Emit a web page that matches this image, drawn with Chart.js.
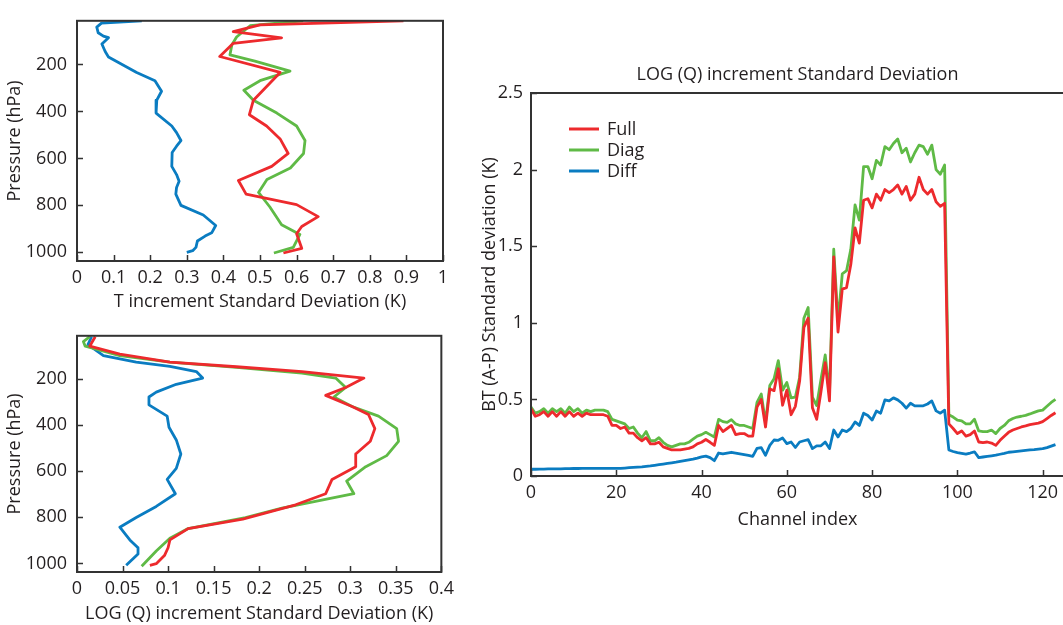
<!DOCTYPE html>
<html><head><meta charset="utf-8">
<script src="https://cdn.jsdelivr.net/npm/chart.js@4.4.1/dist/chart.umd.min.js"></script>
<style>
html,body{margin:0;padding:0;background:#fff;overflow:hidden;width:1063px;height:625px;position:relative;}
.box{position:absolute;}
canvas{display:block;}
</style></head><body>
<div class="box" style="left:0;top:0;"><canvas id="c1" width="460" height="315"></canvas></div>
<div class="box" style="left:0;top:315px;"><canvas id="c2" width="460" height="310"></canvas></div>
<div class="box" style="left:470px;top:50px;"><canvas id="c3" width="600" height="490"></canvas></div>
<script>
// ---------- Panel 1: T increment std dev vs pressure ----------
const tFullVal = [0.892,0.50,0.427,0.559,0.427,0.39,0.555,0.482,0.471,0.518,0.555,0.577,0.532,0.441,0.462,0.60,0.659,0.614,0.60,0.614,0.564];
const tFullP   = [14,31,60,87,110,166,234,352,414,462,517,579,634,694,752,797,848,890,921,983,1003];
const tDiagVal = [0.618,0.473,0.436,0.423,0.418,0.486,0.582,0.50,0.456,0.482,0.546,0.60,0.623,0.619,0.583,0.519,0.496,0.527,0.559,0.609,0.591,0.538];
const tDiagP   = [14,35,83,117,159,186,228,269,310,352,407,462,524,579,641,690,745,807,883,924,979,1003];
const tDiffVal = [0.177,0.067,0.054,0.058,0.072,0.086,0.068,0.077,0.086,0.163,0.213,0.231,0.218,0.216,0.259,0.272,0.284,0.272,0.26,0.259,0.272,0.279,0.272,0.27,0.284,0.345,0.379,0.368,0.35,0.329,0.325,0.316,0.30];
const tDiffP   = [14,24,41,65,79,86,113,145,168,234,269,314,352,407,462,490,524,548,575,634,669,697,724,752,800,841,886,917,931,952,979,993,1000];
const tTicks   = [0,0.1,0.2,0.3,0.4,0.5,0.6,0.7,0.8,0.9,1];

// ---------- Panel 2: LOG(Q) increment std dev vs pressure ----------
const qFullVal = [0.02,0.016,0.014,0.047,0.102,0.175,0.247,0.315,0.295,0.273,0.302,0.32,0.327,0.322,0.306,0.306,0.28,0.273,0.24,0.182,0.122,0.102,0.10,0.096,0.087,0.08];
const qFullP   = [18,45,59,93,128,148,169,197,238,272,320,355,416,471,526,581,636,698,746,808,849,898,932,966,1001,1008];
const qDiagVal = [0.014,0.007,0.009,0.047,0.102,0.175,0.247,0.284,0.295,0.282,0.302,0.331,0.351,0.353,0.34,0.317,0.296,0.304,0.225,0.185,0.122,0.102,0.087,0.071];
const qDiagP   = [18,39,59,100,128,151,176,197,238,279,320,362,416,471,533,581,643,698,760,801,849,891,946,1012];
const qDiffVal = [0.016,0.012,0.029,0.065,0.102,0.131,0.138,0.109,0.087,0.079,0.079,0.099,0.101,0.109,0.114,0.109,0.099,0.108,0.087,0.065,0.047,0.058,0.067,0.067,0.054];
const qDiffP   = [18,52,100,128,146,169,197,224,258,279,313,362,410,465,526,588,636,698,753,801,843,898,932,959,1008];
const qTicks   = [0,0.05,0.1,0.15,0.2,0.25,0.3,0.35,0.4];

const pressureTicks = [200,400,600,800,1000];

// ---------- Panel 3: BT (A-P) std dev vs channel ----------
const channels = Array.from({length:124}, (_, i) => i);
const btFull = [0.44,0.39,0.40,0.42,0.39,0.42,0.39,0.42,0.39,0.42,0.39,0.41,0.39,0.41,0.40,0.40,0.40,0.40,0.39,0.33,
  0.33,0.31,0.32,0.28,0.28,0.25,0.23,0.25,0.21,0.21,0.22,0.19,0.18,0.17,0.17,0.17,0.175,0.18,0.19,0.21,
  0.22,0.238,0.22,0.20,0.33,0.29,0.31,0.33,0.27,0.277,0.277,0.26,0.26,0.45,0.50,0.32,0.568,0.557,0.70,0.462,
  0.56,0.40,0.455,0.62,0.97,1.03,0.445,0.37,0.55,0.74,0.49,1.43,0.94,1.22,1.23,1.38,1.62,1.52,1.80,1.81,
  1.75,1.84,1.80,1.87,1.85,1.87,1.90,1.84,1.89,1.80,1.84,1.95,1.87,1.84,1.87,1.79,1.76,1.78,0.34,0.31,
  0.277,0.294,0.26,0.27,0.294,0.222,0.218,0.222,0.215,0.20,0.233,0.26,0.285,0.30,0.31,0.32,0.327,0.335,0.34,0.345,
  0.355,0.375,0.395,0.413];
const btDiag = [0.45,0.41,0.42,0.44,0.41,0.44,0.42,0.44,0.41,0.45,0.42,0.44,0.41,0.43,0.42,0.43,0.43,0.43,0.42,0.37,
  0.36,0.35,0.34,0.31,0.32,0.28,0.25,0.29,0.23,0.23,0.25,0.22,0.20,0.19,0.20,0.21,0.21,0.22,0.24,0.26,
  0.27,0.285,0.27,0.255,0.37,0.355,0.35,0.368,0.34,0.33,0.33,0.32,0.31,0.48,0.535,0.35,0.59,0.634,0.753,0.56,
  0.61,0.51,0.515,0.645,1.03,1.10,0.515,0.46,0.63,0.79,0.537,1.48,1.01,1.32,1.34,1.48,1.77,1.67,2.02,2.02,
  1.94,2.06,2.03,2.15,2.13,2.17,2.20,2.11,2.14,2.05,2.11,2.16,2.15,2.10,2.16,2.00,1.97,2.03,0.40,0.385,
  0.364,0.36,0.34,0.34,0.37,0.294,0.29,0.29,0.30,0.277,0.31,0.33,0.36,0.375,0.385,0.39,0.396,0.405,0.415,0.425,
  0.43,0.455,0.48,0.50];
const btDiff = [0.044,0.044,0.045,0.045,0.046,0.046,0.047,0.047,0.048,0.048,0.049,0.049,0.05,0.05,0.05,0.05,0.05,0.05,0.05,0.05,
  0.05,0.05,0.052,0.054,0.056,0.058,0.06,0.063,0.066,0.07,0.074,0.078,0.082,0.086,0.09,0.095,0.10,0.105,0.11,0.117,
  0.125,0.13,0.12,0.10,0.15,0.145,0.15,0.155,0.15,0.145,0.14,0.135,0.128,0.18,0.185,0.135,0.20,0.235,0.233,0.248,
  0.211,0.222,0.186,0.222,0.23,0.237,0.179,0.197,0.197,0.222,0.179,0.30,0.255,0.30,0.29,0.31,0.353,0.33,0.41,0.395,
  0.365,0.424,0.41,0.497,0.49,0.51,0.497,0.475,0.443,0.475,0.458,0.458,0.458,0.47,0.49,0.425,0.41,0.43,0.17,0.16,
  0.153,0.148,0.143,0.15,0.158,0.12,0.124,0.128,0.132,0.136,0.142,0.148,0.155,0.158,0.161,0.164,0.167,0.17,0.172,0.175,
  0.178,0.185,0.195,0.205];
const channelTicks = [0,20,40,60,80,100,120];
const btTicks = [0,0.5,1,1.5,2,2.5];

const seriesNames = ['Full','Diag','Diff'];
const colors = {Full:'#ed2a2d', Diag:'#5fba46', Diff:'#0a7cc1'};

// ---------- common ----------
const FONT = "'Open Sans', 'Noto Sans', sans-serif";
const FS = 18;
const TXT = '#231f20';
const AX = '#333333';
Chart.defaults.font.family = FONT;
Chart.defaults.font.size = FS;
Chart.defaults.color = TXT;
Chart.defaults.animation = false;

const framePlugin = {
  id: 'frame',
  afterDatasetsDraw(chart) {
    const {ctx, chartArea: a, scales} = chart;
    ctx.save();
    ctx.strokeStyle = AX;
    ctx.lineWidth = 2;
    ctx.strokeRect(a.left, a.top, a.right - a.left, a.bottom - a.top);
    ctx.lineWidth = 1.5;
    ctx.beginPath();
    scales.x.ticks.forEach(t => {
      const px = Math.round(scales.x.getPixelForValue(t.value)) + 0.5;
      ctx.moveTo(px, a.bottom); ctx.lineTo(px, a.bottom - 6);
    });
    scales.y.ticks.forEach(t => {
      const py = Math.round(scales.y.getPixelForValue(t.value)) + 0.5;
      ctx.moveTo(a.left, py); ctx.lineTo(a.left + 6, py);
    });
    ctx.stroke();
    ctx.restore();
  }
};

function fmt(v){ return String(Math.round(v*1000)/1000); }

function profileDataset(name, vals, ps){
  return {
    label: name,
    data: vals.map((v,i)=>({x:v, y:ps[i]})),
    showLine: true, borderColor: colors[name], backgroundColor: colors[name],
    borderWidth: 2.8, pointRadius: 0, tension: 0, borderJoinStyle: 'round'
  };
}

function profileChart(id, sets, xTicks, xMax, xTitle, padTop, xAxisH, titlePadB){
  return new Chart(document.getElementById(id), {
    type: 'scatter',
    data: { datasets: sets },
    options: {
      responsive: false,
      layout: { padding: { left: 0, right: 17, top: padTop, bottom: 0 } },
      plugins: { legend: { display: false }, tooltip: { enabled: false } },
      scales: {
        x: {
          type: 'linear', min: 0, max: xMax,
          afterBuildTicks: s => { s.ticks = xTicks.map(v => ({value: v})); },
          afterFit: s => { s.height = xAxisH; },
          grid: { display: false, drawTicks: false }, border: { display: false },
          ticks: { padding: 6, maxRotation: 0, autoSkip: false, callback: v => fmt(v), color: TXT },
          title: { display: true, text: xTitle, color: TXT, padding: { top: 0, bottom: titlePadB } }
        },
        y: {
          type: 'linear', reverse: true, min: 14, max: 1037,
          afterBuildTicks: s => { s.ticks = pressureTicks.map(v => ({value: v})); },
          afterFit: s => { s.width = 77; },
          grid: { display: false, drawTicks: false }, border: { display: false },
          ticks: { padding: 10, autoSkip: false, callback: v => fmt(v), color: TXT },
          title: { display: true, text: 'Pressure (hPa)', color: TXT, padding: { top: 4, bottom: 0 } }
        }
      }
    },
    plugins: [framePlugin]
  });
}

profileChart('c1', [
  profileDataset('Full', tFullVal, tFullP),
  profileDataset('Diag', tDiagVal, tDiagP),
  profileDataset('Diff', tDiffVal, tDiffP)
], tTicks, 1, 'T increment Standard Deviation (K)', 13, 54, 2);

profileChart('c2', [
  profileDataset('Full', qFullVal, qFullP),
  profileDataset('Diag', qDiagVal, qDiagP),
  profileDataset('Diff', qDiffVal, qDiffP)
], qTicks, 0.4, 'LOG (Q) increment Standard Deviation (K)', 9, 53, 0);

// ---------- right panel ----------
const chartTitleText = 'LOG (Q) increment Standard Deviation';
const legendPlugin = {
  id: 'insideLegend',
  afterDraw(chart) {
    const {ctx, chartArea: a} = chart;
    ctx.save();
    ctx.font = FS + 'px ' + FONT;
    ctx.textBaseline = 'middle';
    ctx.fillStyle = TXT;
    // title centred over the plot area
    ctx.textAlign = 'center';
    ctx.fillText(chartTitleText, (a.left + a.right) / 2, a.top - 18);
    ctx.textAlign = 'left';
    chart.data.datasets.forEach((ds, i) => {
      const y = a.top + 36 + i * 21;
      ctx.strokeStyle = ds.borderColor; ctx.lineWidth = 3;
      ctx.beginPath(); ctx.moveTo(a.left + 38, y); ctx.lineTo(a.left + 68, y); ctx.stroke();
      ctx.fillStyle = TXT;
      ctx.fillText(ds.label, a.left + 76, y + 1);
    });
    ctx.restore();
  }
};

const btSeries = {Full: btFull, Diag: btDiag, Diff: btDiff};
new Chart(document.getElementById('c3'), {
  type: 'scatter',
  data: {
    datasets: seriesNames.map(n => ({
      label: n,
      data: channels.map((c, i) => ({x: c, y: btSeries[n][i]})),
      showLine: true, borderColor: colors[n], backgroundColor: colors[n],
      borderWidth: 2.8, pointRadius: 0, tension: 0, borderJoinStyle: 'round'
    }))
  },
  options: {
    responsive: false,
    layout: { padding: { left: 0, right: 6, top: 43, bottom: 0 } },
    plugins: { legend: { display: false }, tooltip: { enabled: false }, title: { display: false } },
    scales: {
      x: {
        type: 'linear', min: 0, max: 125,
        afterBuildTicks: s => { s.ticks = channelTicks.map(v => ({value: v})); },
        afterFit: s => { s.height = 64; },
        grid: { display: false, drawTicks: false }, border: { display: false },
        ticks: { padding: 6, maxRotation: 0, autoSkip: false, color: TXT },
        title: { display: true, text: 'Channel index', color: TXT, padding: { top: 0, bottom: 9 } }
      },
      y: {
        type: 'linear', min: 0, max: 2.5,
        afterBuildTicks: s => { s.ticks = btTicks.map(v => ({value: v})); },
        afterFit: s => { s.width = 61; },
        grid: { display: false, drawTicks: false }, border: { display: false },
        ticks: { padding: 8, autoSkip: false, callback: v => fmt(v), color: TXT },
        title: { display: true, text: 'BT (A-P) Standard deviation (K)', color: TXT, padding: { top: 9, bottom: 0 } }
      }
    }
  },
  plugins: [framePlugin, legendPlugin]
});
</script>
</body></html>
